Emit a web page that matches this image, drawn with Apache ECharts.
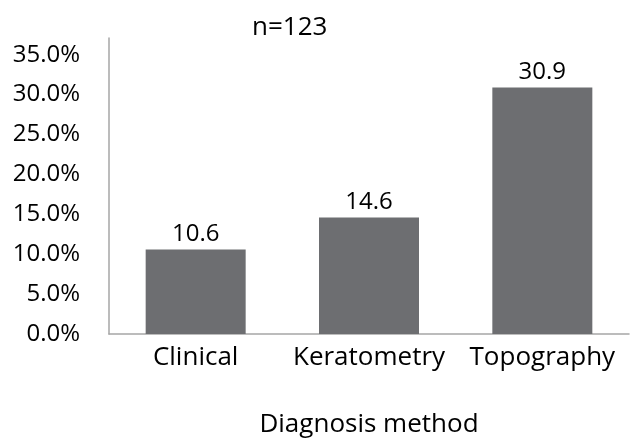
<!DOCTYPE html>
<html>
<head>
<meta charset="utf-8">
<script src="https://cdn.jsdelivr.net/npm/echarts@6/dist/echarts.min.js"></script>
<style>
  html, body { margin: 0; padding: 0; background: #fff; }
  #chart { width: 635px; height: 441px; }
</style>
</head>
<body>
<div id="chart"></div>
<script>
// Share of cases detected by each diagnosis method (%)
const categories = ['Clinical', 'Keratometry', 'Topography'];
const values = [10.6, 14.6, 30.9];
const yTicks = [0, 5, 10, 15, 20, 25, 30, 35];

const FONT = '"Open Sans", sans-serif';
const NUM_FS = 24;   // numeric labels
const TXT_FS = 26;   // word labels
const chart = echarts.init(document.getElementById('chart'), null, { renderer: 'canvas' });

chart.setOption({
  backgroundColor: '#ffffff',
  animation: false,
  title: {
    text: 'n=123',
    left: 247,
    top: 10,
    textStyle: { fontFamily: FONT, fontSize: TXT_FS, fontWeight: 'normal', color: '#000' }
  },
  grid: { left: 109, right: 6, top: 38, bottom: 107, containLabel: false, outerBoundsMode: 'none' },
  xAxis: {
    type: 'category',
    data: categories,
    name: 'Diagnosis method',
    nameLocation: 'middle',
    nameGap: 78,
    nameTextStyle: { fontFamily: FONT, fontSize: TXT_FS, color: '#000' },
    axisLine: { lineStyle: { color: '#a6a6a6', width: 1.5 } },
    axisTick: { show: false },
    axisLabel: { interval: 0, hideOverlap: false, fontFamily: FONT, fontSize: TXT_FS, color: '#000', margin: 11 }
  },
  yAxis: {
    type: 'value',
    min: 0,
    max: 37.1,
    interval: 5,
    splitLine: { show: false },
    axisLine: { show: true, lineStyle: { color: '#a6a6a6', width: 1.5 } },
    axisTick: { show: false },
    axisLabel: {
      fontFamily: FONT,
      fontSize: NUM_FS,
      color: '#000',
      margin: 29,
      showMaxLabel: false,
      formatter: v => (yTicks.includes(v) ? v.toFixed(1) + '%' : '')
    }
  },
  series: [{
    type: 'bar',
    data: values,
    barWidth: 100,
    itemStyle: { color: '#6d6e71' },
    label: {
      show: true,
      position: 'top',
      distance: 3,
      fontFamily: FONT,
      fontSize: NUM_FS,
      color: '#000',
      formatter: p => p.value.toFixed(1)
    }
  }]
});
</script>
</body>
</html>
